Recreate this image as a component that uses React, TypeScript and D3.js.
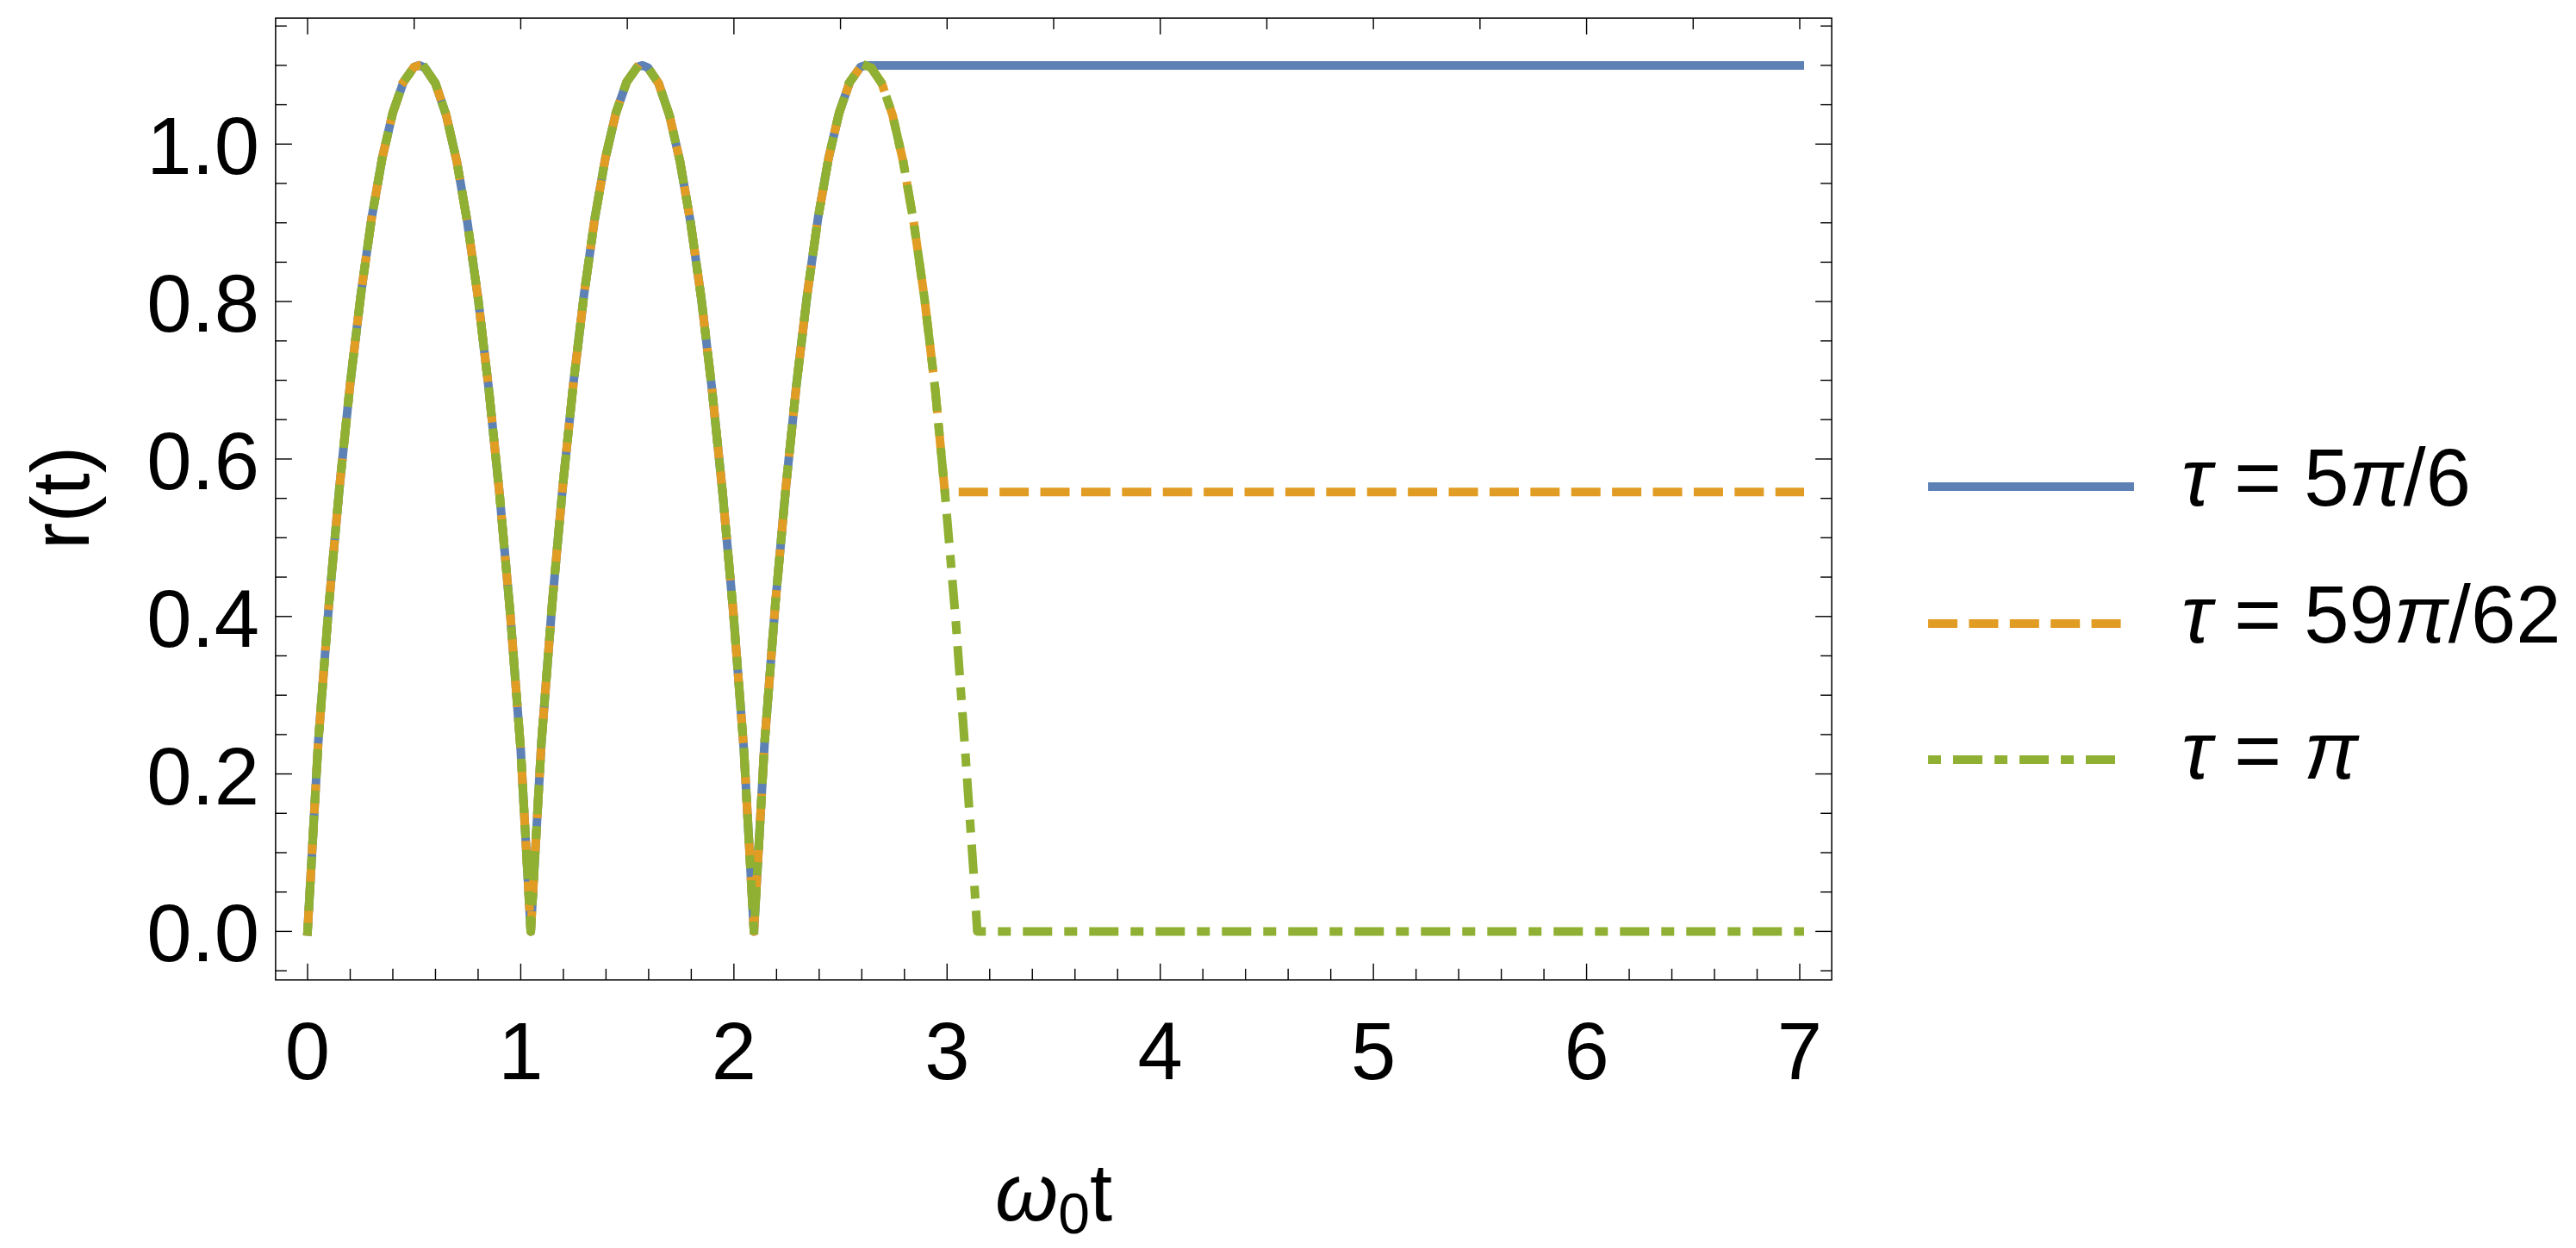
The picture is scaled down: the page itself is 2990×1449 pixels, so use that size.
import React from "react";
import * as d3 from "d3";

// ---- data ----
const SAMPLE_T = [
  0, 0.05, 0.1, 0.15, 0.2, 0.25, 0.3, 0.35, 0.4, 0.45, 0.5, 0.524, 0.55, 0.6, 0.65, 0.7, 0.75, 0.8, 0.85, 0.9, 0.95, 1.0, 1.047,
  1.097, 1.147, 1.197, 1.247, 1.297, 1.347, 1.397, 1.447, 1.497, 1.547, 1.571, 1.597, 1.647, 1.697, 1.747, 1.797, 1.847, 1.897, 1.947, 1.997, 2.047, 2.094,
  2.144, 2.194, 2.244, 2.294, 2.344, 2.394, 2.444, 2.494, 2.544, 2.594, 2.618, 2.644, 2.694, 2.744, 2.794, 2.844, 2.894, 2.944, 2.9896, 3.0, 3.04, 3.085, 3.128, 3.1416,
];
const SAMPLE_R = [
  0, 0.24, 0.415, 0.565, 0.696, 0.809, 0.905, 0.982, 1.04, 1.079, 1.098, 1.1, 1.097, 1.077, 1.037, 0.978, 0.9, 0.804, 0.689, 0.557, 0.406, 0.23, 0,
  0.24, 0.415, 0.565, 0.696, 0.809, 0.905, 0.982, 1.04, 1.079, 1.098, 1.1, 1.097, 1.077, 1.037, 0.978, 0.9, 0.804, 0.689, 0.557, 0.406, 0.23, 0,
  0.24, 0.415, 0.565, 0.696, 0.809, 0.905, 0.982, 1.04, 1.079, 1.098, 1.1, 1.097, 1.077, 1.037, 0.978, 0.9, 0.804, 0.689, 0.558, 0.525, 0.397, 0.229, 0.06, 0,
];
const SERIES_NAMES = ["5π/6", "59π/62", "π"];
const SERIES_TAU = [2.618, 2.9896, 3.1416];
const SERIES_PLATEAU = [1.1, 0.558, 0];
const T_END = 7;

const X_TICKS = [0, 1, 2, 3, 4, 5, 6, 7];
const X_TOP_MAJOR = [0, 2, 4, 6];
const Y_TICKS = [0, 0.2, 0.4, 0.6, 0.8, 1.0];
const Y_TICK_LABELS = ["0.0", "0.2", "0.4", "0.6", "0.8", "1.0"];

// ---- styles ----
const COLORS = ["#5E81B5", "#E19C24", "#8FB032"];
const DASHES = ["none", "24 23.4", "5 24 24 24"];
const FONT = "'Liberation Sans', Arial, sans-serif";

export default function App() {
  const W = 2990, H = 1449;
  const x = d3.scaleLinear().domain([0, 7]).range([357, 2089]);
  const y = d3.scaleLinear().domain([0, 1]).range([1081.4, 167.3]);
  const left = x(-0.15), right = x(7.15), top = y(1.16), bottom = y(-0.0617);

  const line = d3
    .line<[number, number]>()
    .x((d) => x(d[0]))
    .y((d) => y(d[1]))
    .curve(d3.curveLinear);

  const series = SERIES_TAU.map((tau, si) => {
    const pts: [number, number][] = [];
    SAMPLE_T.forEach((t, i) => {
      if (t <= tau + 1e-9) pts.push([t, SAMPLE_R[i]]);
    });
    pts.push([tau, SERIES_PLATEAU[si]]);
    pts.push([T_END, SERIES_PLATEAU[si]]);
    return pts;
  });

  const majorLen = 19, minorLen = 13;
  const xMinor = d3.range(0, 7.0001, 0.2).filter((v) => Math.abs(v - Math.round(v)) > 1e-6);
  const xTopMinor = d3.range(0, 7.0001, 0.5).filter((v) => !X_TOP_MAJOR.some((m) => Math.abs(m - v) < 1e-6));
  const yMinor = d3
    .range(-0.05, 1.1501, 0.05)
    .filter((v) => !Y_TICKS.some((m) => Math.abs(m - v) < 1e-6));

  const tickStroke = { stroke: "#000", strokeWidth: 1.4 };
  const fs = 94;

  const legendX1 = 2243, legendX2 = 2472;
  const legendY = [565, 724, 882];

  return (
    <svg
      width={W}
      height={H}
      viewBox={`0 0 ${W} ${H}`}
      style={{ position: "absolute", left: 0, top: 0, background: "#fff" }}
    >
      <rect x={0} y={0} width={W} height={H} fill="#fff" />

      {/* curves */}
      {series.map((pts, si) => (
        <path
          key={si}
          d={line(pts) || ""}
          fill="none"
          stroke={COLORS[si]}
          strokeWidth={10}
          strokeLinecap="square"
          strokeLinejoin="round"
          strokeDasharray={DASHES[si]}
        />
      ))}

      {/* frame */}
      <rect x={left} y={top} width={right - left} height={bottom - top} fill="none" stroke="#000" strokeWidth={1.5} />

      {/* bottom ticks */}
      {X_TICKS.map((v) => (
        <line key={"bx" + v} x1={x(v)} x2={x(v)} y1={bottom} y2={bottom - majorLen} {...tickStroke} />
      ))}
      {xMinor.map((v, i) => (
        <line key={"bxm" + i} x1={x(v)} x2={x(v)} y1={bottom} y2={bottom - minorLen} {...tickStroke} />
      ))}
      {/* top ticks */}
      {X_TOP_MAJOR.map((v) => (
        <line key={"tx" + v} x1={x(v)} x2={x(v)} y1={top} y2={top + majorLen} {...tickStroke} />
      ))}
      {xTopMinor.map((v, i) => (
        <line key={"txm" + i} x1={x(v)} x2={x(v)} y1={top} y2={top + minorLen} {...tickStroke} />
      ))}
      {/* left / right ticks */}
      {Y_TICKS.map((v) => (
        <g key={"y" + v}>
          <line x1={left} x2={left + majorLen} y1={y(v)} y2={y(v)} {...tickStroke} />
          <line x1={right} x2={right - majorLen} y1={y(v)} y2={y(v)} {...tickStroke} />
        </g>
      ))}
      {yMinor.map((v, i) => (
        <g key={"ym" + i}>
          <line x1={left} x2={left + minorLen} y1={y(v)} y2={y(v)} {...tickStroke} />
          <line x1={right} x2={right - minorLen} y1={y(v)} y2={y(v)} {...tickStroke} />
        </g>
      ))}

      {/* tick labels */}
      {X_TICKS.map((v) => (
        <text key={"xl" + v} x={x(v)} y={1253} textAnchor="middle" fontFamily={FONT} fontSize={fs} fill="#000">
          {String(v)}
        </text>
      ))}
      {Y_TICKS.map((v, i) => (
        <text key={"yl" + v} x={301} y={y(v) + 35} textAnchor="end" fontFamily={FONT} fontSize={fs} fill="#000">
          {Y_TICK_LABELS[i]}
        </text>
      ))}

      {/* axis labels */}
      <text
        transform={`translate(103, 578) rotate(-90)`}
        textAnchor="middle"
        fontFamily={FONT}
        fontSize={fs}
        fill="#000"
      >
        r(t)
      </text>
      <text x={(left + right) / 2} y={1417} textAnchor="middle" fontFamily={FONT} fontSize={fs} fill="#000">
        <tspan fontStyle="italic">ω</tspan>
        <tspan fontSize={66} dy={15}>0</tspan>
        <tspan dy={-15}>t</tspan>
      </text>

      {/* legend */}
      {SERIES_NAMES.map((name, si) => {
        const m = name.match(/^(\d*)π(.*)$/);
        const pre = m ? m[1] : "";
        const post = m ? m[2] : "";
        return (
          <g key={"lg" + si}>
            <line
              x1={legendX1}
              x2={legendX2}
              y1={legendY[si]}
              y2={legendY[si]}
              stroke={COLORS[si]}
              strokeWidth={10}
              strokeLinecap="square"
              strokeDasharray={DASHES[si]}
            />
            <text x={2532} y={legendY[si] + 22} fontFamily={FONT} fontSize={fs} fill="#000" style={{ whiteSpace: "pre" }}>
              <tspan fontStyle="italic">τ</tspan>
              <tspan>{" = " + pre}</tspan>
              <tspan fontStyle="italic">π</tspan>
              <tspan>{post}</tspan>
            </text>
          </g>
        );
      })}
    </svg>
  );
}
